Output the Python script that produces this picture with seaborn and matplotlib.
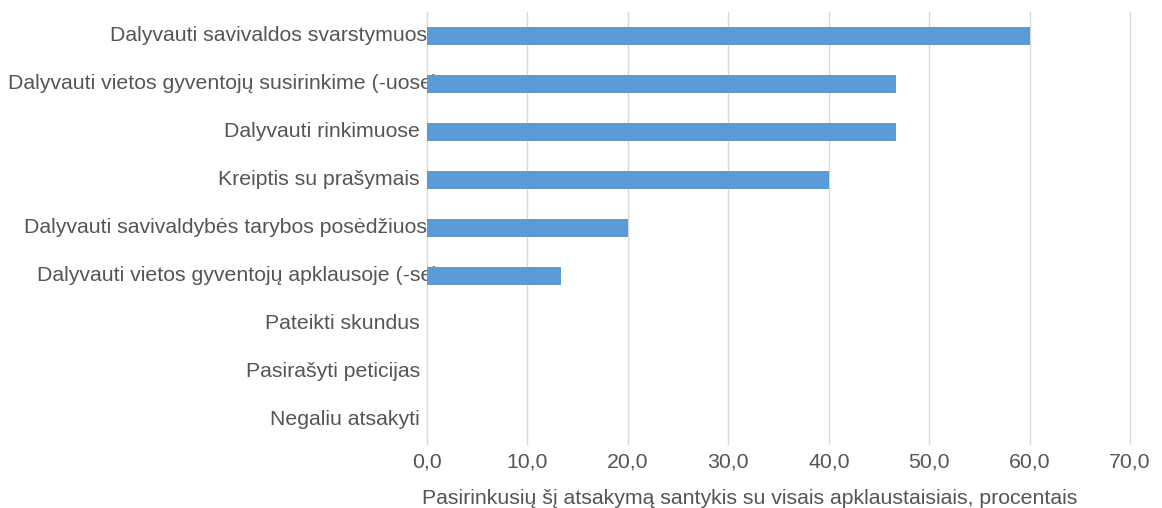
import numpy as np
import pandas as pd
import seaborn as sns
import matplotlib.pyplot as plt
from matplotlib.transforms import offset_copy

categories = [
    'Dalyvauti savivaldos svarstymuose',
    'Dalyvauti vietos gyventojų susirinkime (-uose)',
    'Dalyvauti rinkimuose',
    'Kreiptis su prašymais',
    'Dalyvauti savivaldybės tarybos posėdžiuose',
    'Dalyvauti vietos gyventojų apklausoje (-se)',
    'Pateikti skundus',
    'Pasirašyti peticijas',
    'Negaliu atsakyti',
]
values = [60.0, 46.7, 46.7, 40.0, 20.0, 13.3, 0.0, 0.0, 0.0]
xticks = [0, 10, 20, 30, 40, 50, 60, 70]
xlabel = 'Pasirinkusių šį atsakymą santykis su visais apklaustaisiais, procentais'

sns.set_style('white')
plt.rcParams['font.family'] = ['Liberation Sans', 'DejaVu Sans']

text_color = '#555555'
bar_color = '#5B9BD5'
fs = 15.3

df = pd.DataFrame({'cat': categories, 'val': values})

fig = plt.figure(figsize=(11.62, 5.08), dpi=100)
ax = fig.add_axes([0.3675, 0.126, 0.605, 0.8504])

sns.barplot(data=df, x='val', y='cat', orient='h', color=bar_color,
            saturation=1, width=0.38, linewidth=0, edgecolor='none',
            ax=ax, zorder=2)

ax.set_xlim(0, 70)
ax.set_ylim(len(categories) - 0.5, -0.5)
ax.set_xticks(xticks)
ax.set_xticklabels([f'{v:.1f}'.replace('.', ',') for v in xticks])
ax.tick_params(axis='x', length=0, pad=6, labelsize=fs, labelcolor=text_color)
ax.set_yticks([])
ax.set_ylabel('')
ax.set_xlabel(xlabel, fontsize=fs, color=text_color)
ax.xaxis.set_label_coords(0.459, -0.105)
ax.xaxis.label.set_va('top')

ax.set_axisbelow(True)
ax.grid(axis='x', color='#D9D9D9', linewidth=1)
ax.grid(axis='y', visible=False)
for gl in ax.get_xgridlines():
    gl.set_clip_on(False)
for s in ax.spines.values():
    s.set_visible(False)

# category labels sit under the bars, long ones overflow into the plot
for i, c in enumerate(categories):
    dx = 12 if len(c) > 25 else -7
    tr = offset_copy(ax.get_yaxis_transform(), fig=fig, x=dx, y=-5, units='dots')
    ax.text(0, i, c, transform=tr, ha='right', va='baseline', fontsize=fs,
            color=text_color, zorder=0.5, clip_on=False)

fig.savefig('out.png', dpi=100)
